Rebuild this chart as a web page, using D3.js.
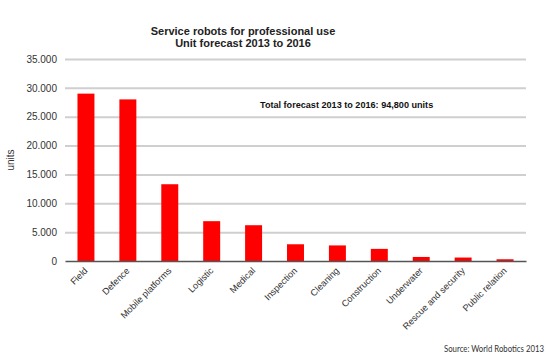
<!DOCTYPE html>
<html>
<head>
<meta charset="utf-8">
<script src="https://cdn.jsdelivr.net/npm/d3@7"></script>
<style>
  body { margin: 0; background: #fff; }
  svg { display: block; font-family: "Liberation Sans", Arial, sans-serif; }
</style>
</head>
<body>
<div id="chart"></div>
<script>
// values (units, forecast 2013-2016)
const categories = ["Field", "Defence", "Mobile platforms", "Logistic", "Medical", "Inspection",
    "Cleaning", "Construction", "Underwater", "Rescue and security", "Public relation"];
const units = [29000, 28000, 13300, 6900, 6200, 2900, 2700, 2100, 700, 600, 300];
const yTicks = [0, 5000, 10000, 15000, 20000, 25000, 30000, 35000];

const width = 554, height = 361;
const margin = { top: 59, right: 28, bottom: 100, left: 65 };

const svg = d3.select("#chart").append("svg")
    .attr("width", width)
    .attr("height", height);

const x = d3.scaleBand()
    .domain(categories)
    .range([margin.left, width - margin.right])
    .paddingInner(0.595)
    .paddingOuter(0.2975);

const y = d3.scaleLinear()
    .domain([0, 35000])
    .range([height - margin.bottom, margin.top]);

// gridlines + y labels
const yAxis = svg.append("g")
    .attr("transform", `translate(${margin.left},0)`)
    .call(d3.axisLeft(y)
        .tickValues(yTicks)
        .tickSize(-(width - margin.left - margin.right))
        .tickPadding(8)
        .tickFormat(d => d3.format(",")(d).replace(",", ".")));
yAxis.select(".domain").remove();
yAxis.selectAll(".tick line")
    .attr("stroke", d => d === 0 ? "none" : "#cfcfcf")
    .attr("stroke-width", 2);
yAxis.selectAll(".tick text")
    .attr("fill", "#333")
    .style("font-size", "10px");

// bars
svg.append("g")
    .selectAll("rect")
    .data(units)
    .join("rect")
    .attr("x", (d, i) => x(categories[i]))
    .attr("y", d => y(d))
    .attr("width", x.bandwidth())
    .attr("height", d => y(0) - y(d))
    .attr("fill", "#ff0000");

// baseline
const xAxis = svg.append("g")
    .attr("transform", `translate(0,${y(0)})`)
    .call(d3.axisBottom(x).tickSize(0).tickFormat(""));
xAxis.select(".domain").attr("stroke", "#555").attr("stroke-width", 1.5);

// rotated category labels
svg.append("g")
    .selectAll("text")
    .data(categories)
    .join("text")
    .attr("transform", d => `translate(${x(d) + x.bandwidth() / 2},${y(0) + 8}) rotate(-45)`)
    .attr("text-anchor", "end")
    .attr("dy", "0.35em")
    .attr("fill", "#333")
    .style("font-size", "9.2px")
    .text(d => d);

// y title
svg.append("text")
    .attr("transform", `translate(14,${(y(0) + y(35000)) / 2}) rotate(-90)`)
    .attr("text-anchor", "middle")
    .attr("fill", "#333")
    .style("font-size", "10px")
    .text("units");

// chart title
const title = svg.append("text")
    .attr("text-anchor", "middle")
    .attr("fill", "#222")
    .style("font-size", "11px")
    .style("font-weight", "bold");
title.append("tspan").attr("x", 243).attr("y", 35).text("Service robots for professional use");
title.append("tspan").attr("x", 243).attr("y", 47).text("Unit forecast 2013 to 2016");

// annotation
svg.append("text")
    .attr("x", 260)
    .attr("y", 108)
    .attr("fill", "#111")
    .style("font-size", "9.1px")
    .style("font-weight", "bold")
    .text("Total forecast 2013 to 2016: 94,800 units");

// source
svg.append("text")
    .attr("x", 544)
    .attr("y", 352)
    .attr("text-anchor", "end")
    .attr("fill", "#333")
    .style("font-family", "Lato, 'Open Sans', sans-serif")
    .style("font-size", "8.5px")
    .attr("textLength", 100)
    .attr("lengthAdjust", "spacingAndGlyphs")
    .text("Source: World Robotics 2013");
</script>
</body>
</html>
